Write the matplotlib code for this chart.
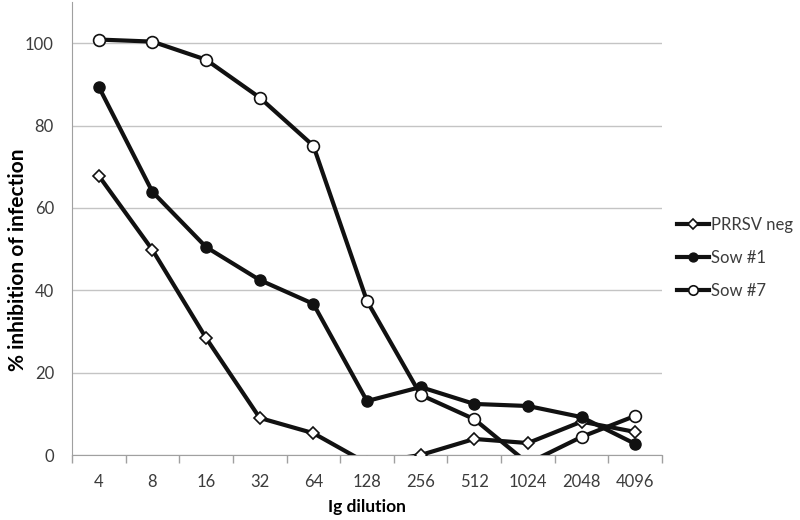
import numpy as np
import matplotlib
matplotlib.use("Agg")
import matplotlib.pyplot as plt

# Ig dilution categories and % inhibition
dilutions = ["4", "8", "16", "32", "64", "128", "256", "512", "1024", "2048", "4096"]
prrsv_neg = [67.8, 49.8, 28.4, 9.0, 5.3, -2.0, 0.0, 3.9, 2.9, 8.1, 5.6]
sow_1 = [89.4, 63.9, 50.5, 42.5, 36.7, 13.1, 16.5, 12.4, 11.9, 9.2, 2.7]
sow_7 = [100.9, 100.4, 96.0, 86.8, 75.1, 37.4, 14.6, 8.7, -2.0, 4.4, 9.5]

plt.rcParams['font.family'] = ['Lato', 'DejaVu Sans']

fig = plt.figure(figsize=(8, 5.2), dpi=100)
ax = fig.add_axes([0.09, 0.125, 0.7375, 0.871])

x = np.arange(len(dilutions))
lw = 3.0
ax.plot(x, prrsv_neg, color='#111111', lw=lw, marker='D', markersize=6,
        markerfacecolor='white', markeredgecolor='#111111', markeredgewidth=1.2,
        label='PRRSV neg', zorder=3)
ax.plot(x, sow_1, color='#111111', lw=lw, marker='o', markersize=8,
        markerfacecolor='#111111', markeredgecolor='#111111',
        label='Sow #1', zorder=3)
ax.plot(x, sow_7, color='#111111', lw=lw, marker='o', markersize=8.5,
        markerfacecolor='white', markeredgecolor='#111111', markeredgewidth=1.2,
        label='Sow #7', zorder=3)

ax.set_xlim(-0.5, len(dilutions) - 0.5)
ax.set_ylim(0, 110)
ax.set_yticks([0, 20, 40, 60, 80, 100])
ax.set_xticks(x)
ax.set_xticklabels(dilutions)
ax.set_xticks(np.arange(-0.5, len(dilutions)), minor=True)
ax.tick_params(axis='x', which='major', length=0, pad=14, labelsize=12, labelcolor='#3c3c3c')
ax.tick_params(axis='x', which='minor', length=6, color='#a0a0a0', width=1)
ax.tick_params(axis='y', length=0, pad=13, labelsize=12, labelcolor='#3c3c3c')

ax.grid(axis='y', color='#c4c4c4', lw=1)
ax.set_axisbelow(True)
for s in ['top', 'right']:
    ax.spines[s].set_visible(False)
ax.spines['left'].set_color('#a0a0a0')
ax.spines['bottom'].set_color('#a0a0a0')

ax.set_xlabel('Ig dilution', fontsize=12.5, fontweight='bold', labelpad=6)
ax.set_ylabel('% inhibition of infection', fontsize=15, fontweight='bold', labelpad=10)
ax.yaxis.set_label_coords(-0.075, 0.43)

ax.legend(loc='center left', bbox_to_anchor=(1.0, 0.435), frameon=False,
          fontsize=12, handlelength=1.9, handletextpad=0.15, labelspacing=1.0,
          markerscale=0.8, labelcolor='#3c3c3c')

fig.savefig('out.png', dpi=100)
